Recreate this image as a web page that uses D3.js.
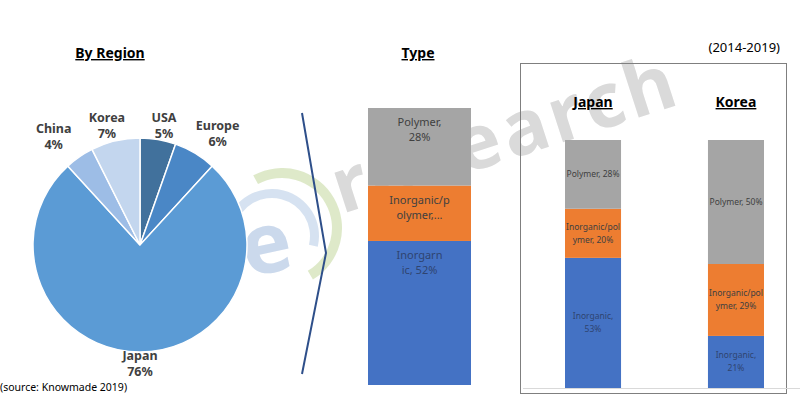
<!DOCTYPE html>
<html><head><meta charset="utf-8">
<script src="https://cdn.jsdelivr.net/npm/d3@7"></script>
<style>body{margin:0;background:#fff}svg{display:block}text{font-family:"Noto Sans",sans-serif}</style>
</head><body><svg id="c" width="800" height="403"></svg>
<script>
// ---- data ----
const regions = ["USA","Europe","Japan","China","Korea"];
const regionShares = [5.4, 6.4, 76.4, 4.4, 7.4];
const regionColors = ["#41719c","#4a87c6","#5b9bd5","#9dbde6","#c3d6ee"];

const typeSeries = ["Inorganic","Inorganic/polymer","Polymer"];
const typeValues = [52, 20, 28];
const typeLabels = [["Inorgarn","ic, 52%"],["Inorganic/p","olymer,..."],["Polymer,","28%"]];
const seriesColors = ["#4472c4","#ed7d31","#a5a5a5"];

const countries = ["Japan","Korea"];
const inorganic = [53, 21];
const hybrid = [20, 29];
const polymer = [28, 50];

const svg = d3.select("#c");

// ---- watermark ----
const wm = svg.append("g").attr("opacity",0.6);
wm.append("path").attr("d", d3.arc()({innerRadius:50,outerRadius:60,startAngle:-0.5,endAngle:2.6}))
  .attr("transform","translate(282,228)").attr("fill","#c9dca6");
wm.append("path").attr("d", d3.arc()({innerRadius:38,outerRadius:47,startAngle:-1.3,endAngle:1.8}))
  .attr("transform","translate(272,236)").attr("fill","#bcd0e8");
wm.append("text").attr("x",240).attr("y",272).attr("font-size",84).attr("font-weight","bold")
  .attr("fill","#a9c0e0").attr("transform","rotate(-12,270,240)").text("e");
svg.append("text").attr("x",342).attr("y",214).attr("font-size",76).attr("font-weight","bold")
  .attr("letter-spacing",4).attr("fill","#dadada").attr("transform","rotate(-18,342,214)").text("research");

// ---- pie ----
const cx = 140, cy = 245, r = 107;
const pie = d3.pie().sort(null).value(d => d.v);
const pdata = pie(regions.map((n,i)=>({n, v: regionShares[i], c: regionColors[i]})));
const arc = d3.arc().innerRadius(0).outerRadius(r);
const pg = svg.append("g").attr("transform",`translate(${cx},${cy})`);
pg.selectAll("path").data(pdata).join("path").attr("d",arc).attr("fill",d=>d.data.c)
  .attr("stroke","#fff").attr("stroke-width",1.5);
pdata.forEach(d=>{
  const a = (d.startAngle+d.endAngle)/2;
  const lr = 118 + 25*Math.abs(Math.sin(a));
  const x = lr*Math.sin(a) + 20*Math.sin(a);
  const y = -lr*Math.cos(a);
  const t = pg.append("text").attr("text-anchor","middle").attr("font-size",12.5)
    .attr("font-weight","bold").attr("fill","#404040");
  t.append("tspan").attr("x",x).attr("y",y-3).text(d.data.n);
  t.append("tspan").attr("x",x).attr("y",y+13).text(Math.round(d.data.v)+"%");
});
svg.append("text").attr("x",110).attr("y",58).attr("text-anchor","middle").attr("font-size",14)
  .attr("font-weight","bold").attr("text-decoration","underline").attr("fill","#000").text("By Region");
svg.append("text").attr("x",0).attr("y",391).attr("font-size",10.5).attr("fill","#000").text("(source: Knowmade 2019)");

// ---- chevron ----
svg.append("path").attr("d",d3.line()([[302,113],[326,253],[302,374]]))
  .attr("fill","none").attr("stroke","#2e4f8a").attr("stroke-width",2);

// ---- type bar ----
svg.append("text").attr("x",418).attr("y",58).attr("text-anchor","middle").attr("font-size",14)
  .attr("font-weight","bold").attr("text-decoration","underline").attr("fill","#000").text("Type");
const ty = d3.scaleLinear().domain([0,100]).range([385,108]);
const tx = d3.scaleBand().domain(["Type"]).range([368,471]);
let acc = 0;
typeValues.forEach((v,i)=>{
  const y0 = acc, y1 = acc + v; acc = y1;
  svg.append("rect").attr("x",tx("Type")).attr("width",tx.bandwidth())
    .attr("y",ty(y1)).attr("height",ty(y0)-ty(y1)).attr("fill",seriesColors[i]);
  const t = svg.append("text").attr("text-anchor","middle").attr("font-size",11)
    .attr("fill", i===0 ? "#2f4470" : "#404040");
  typeLabels[i].forEach((s,k)=>t.append("tspan").attr("x",tx("Type")+tx.bandwidth()/2)
    .attr("y",ty(y1)+18+k*15).text(s));
});

// ---- country box ----
svg.append("rect").attr("x",520.5).attr("y",63.5).attr("width",266).attr("height",330)
  .attr("fill","none").attr("stroke","#7f7f7f").attr("stroke-width",1);
svg.append("text").attr("x",780).attr("y",52).attr("text-anchor","end").attr("font-size",13)
  .attr("fill","#000").text("(2014-2019)");
const cdata = countries.map((c,i)=>({c, Inorganic: inorganic[i], "Inorganic/polymer": hybrid[i], Polymer: polymer[i]}));
const stack = d3.stack().keys(typeSeries).offset(d3.stackOffsetExpand);
const layers = stack(cdata);
const x = d3.scaleBand().domain(countries).range([565,764]).paddingInner(0.608).paddingOuter(0);
const y = d3.scaleLinear().domain([0,1]).range([388,140]);
svg.append("line").attr("x1",523).attr("x2",800).attr("y1",388.5).attr("y2",388.5)
  .attr("stroke","#d9d9d9");
layers.forEach((L,i)=>{
  svg.append("g").selectAll("rect").data(L).join("rect")
    .attr("x",d=>x(d.data.c)).attr("width",x.bandwidth())
    .attr("y",d=>y(d[1])).attr("height",d=>y(d[0])-y(d[1])).attr("fill",seriesColors[i]);
});
const wrapLabels = {
  "Inorganic": v => ["Inorganic,", v+"%"],
  "Inorganic/polymer": v => ["Inorganic/pol", "ymer, "+v+"%"],
  "Polymer": v => ["Polymer, "+v+"%"]
};
layers.forEach((L,i)=>{
  L.forEach(d=>{
    const lines = wrapLabels[L.key](d.data[L.key]);
    const mid = (y(d[0])+y(d[1]))/2;
    const t = svg.append("text").attr("text-anchor","middle").attr("font-size",8.5)
      .attr("fill", i===0 ? "#2f4470" : "#404040");
    lines.forEach((s,k)=>t.append("tspan").attr("x",x(d.data.c)+x.bandwidth()/2)
      .attr("y",mid+3 + (k-(lines.length-1)/2)*13).text(s));
  });
});
countries.forEach(c=>{
  svg.append("text").attr("x",x(c)+x.bandwidth()/2).attr("y",107).attr("text-anchor","middle")
    .attr("font-size",14).attr("font-weight","bold").attr("text-decoration","underline").attr("fill","#000").text(c);
});
</script></body></html>
